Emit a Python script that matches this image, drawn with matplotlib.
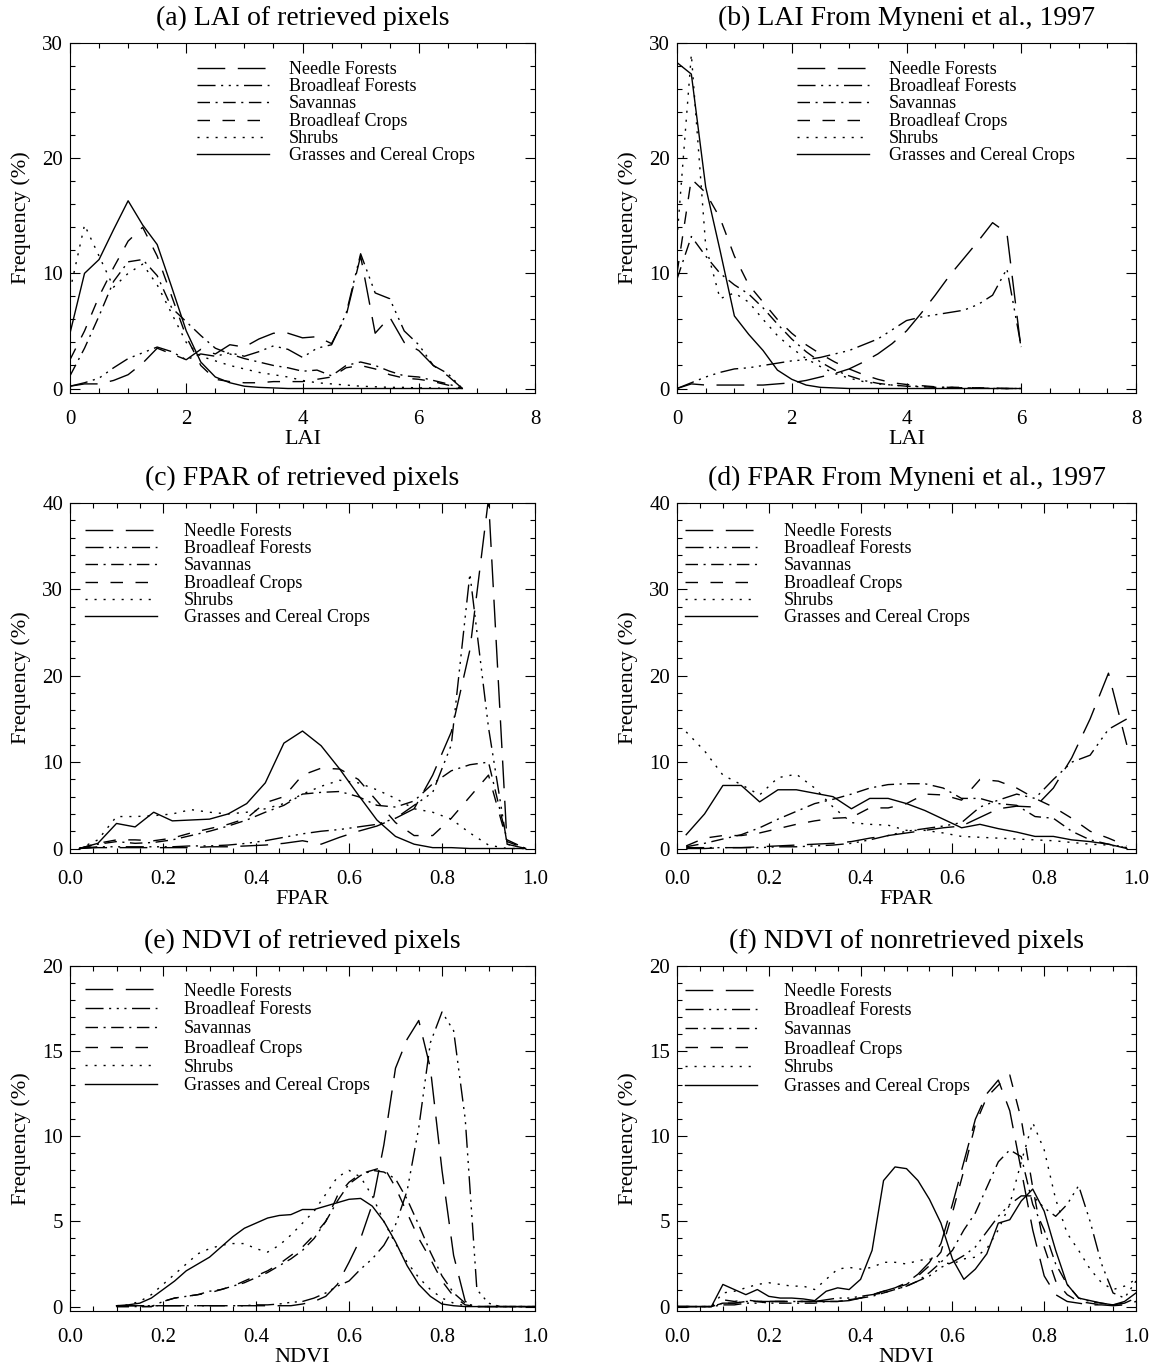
import numpy as np
import matplotlib.pyplot as plt
from matplotlib.ticker import MultipleLocator, FormatStrFormatter

plt.rcParams['font.family'] = ['Liberation Serif', 'DejaVu Serif']
plt.rcParams['lines.scale_dashes'] = False

names = ['Needle Forests', 'Broadleaf Forests', 'Savannas',
         'Broadleaf Crops', 'Shrubs', 'Grasses and Cereal Crops']

# (a) LAI of retrieved pixels
a_x = [0, 0.25, 0.5, 0.75, 1.0, 1.25, 1.5, 1.75, 2.0, 2.25, 2.5, 2.75, 3.0, 3.25,
       3.5, 3.75, 4.0, 4.25, 4.5, 4.75, 5.0, 5.25, 5.5, 5.75, 6.0, 6.25, 6.5, 6.75]
a_needle = [0.2, 0.4, 0.4, 0.7, 1.2, 2.2, 3.5, 3.0, 2.5, 3.4, 3.0, 3.8, 3.6, 4.3,
            4.8, 4.8, 4.4, 4.5, 3.9, 6.3, 11.5, 4.8, 6.2, 4.0, 3.3, 2.0, 1.1, 0.0]
a_broadfor = [0.2, 0.5, 0.9, 1.8, 2.6, 3.1, 3.6, 3.2, 2.5, 3.0, 2.8, 3.1, 2.8, 3.2,
              3.7, 3.4, 2.7, 3.5, 3.8, 6.5, 11.7, 8.3, 7.8, 5.0, 3.8, 2.0, 1.3, 0.0]
a_savanna = [1.1, 3.5, 6.3, 9.3, 11.0, 11.2, 9.8, 7.0, 5.8, 4.6, 3.5, 3.0, 2.6, 2.3,
             2.0, 1.8, 1.5, 1.6, 1.1, 2.0, 2.3, 2.0, 1.5, 1.1, 1.0, 0.7, 0.4, 0.0]
a_crops = [2.5, 5.0, 8.0, 10.5, 12.8, 14.0, 11.5, 8.0, 4.5, 2.0, 0.8, 0.6, 0.5, 0.5,
           0.6, 0.6, 0.6, 0.8, 1.0, 1.8, 2.0, 1.7, 1.2, 0.9, 0.8, 0.6, 0.3, 0.0]
a_shrubs = [8.5, 14.2, 11.5, 8.8, 10.0, 10.8, 9.0, 6.5, 4.0, 2.8, 2.4, 2.0, 1.7, 1.4,
            1.2, 1.0, 0.7, 0.5, 0.4, 0.3, 0.2, 0.15, 0.1, 0.1, 0.05, 0.05, 0.0, 0.0]
a_grass = [4.8, 10.0, 11.2, 13.8, 16.3, 14.2, 12.5, 8.8, 5.0, 2.3, 1.0, 0.5, 0.2, 0.1,
           0.05, 0, 0, 0, 0, 0, 0, 0, 0, 0, 0, 0, 0, 0]

# (b) LAI from Myneni et al., 1997
b_x = [0, 0.25, 0.5, 0.75, 1.0, 1.25, 1.5, 1.75, 2.0, 2.25, 2.5, 2.75, 3.0,
       3.25, 3.5, 3.75, 4.0, 4.25, 4.5, 4.75, 5.0, 5.25, 5.5, 5.75, 6.0]
b_needle = [0.0, 0.4, 0.3, 0.3, 0.3, 0.3, 0.3, 0.4, 0.5, 0.7, 1.0, 1.3, 1.7,
            2.3, 3.0, 3.9, 5.0, 6.5, 8.1, 9.8, 11.3, 12.8, 14.4, 13.5, 3.3]
b_broadfor = [0.0, 0.5, 1.0, 1.4, 1.7, 1.8, 2.0, 2.2, 2.4, 2.5, 2.7, 3.0, 3.3,
              3.8, 4.3, 5.1, 5.9, 6.2, 6.4, 6.6, 6.8, 7.3, 8.1, 10.4, 3.6]
b_savanna = [9.5, 13.2, 11.5, 10.0, 9.0, 8.2, 7.0, 5.6, 4.3, 3.2, 2.3, 1.6, 1.1,
             0.7, 0.45, 0.3, 0.2, 0.15, 0.1, 0.1, 0.05, 0.05, 0, 0, 0]
b_crops = [10.0, 18.2, 17.0, 14.8, 11.5, 9.0, 7.5, 6.0, 4.8, 3.8, 3.0, 2.3, 1.7,
           1.2, 0.8, 0.5, 0.35, 0.25, 0.15, 0.1, 0.1, 0.05, 0.05, 0, 0]
b_shrubs = [13.0, 29.0, 12.4, 7.8, 8.3, 7.5, 6.0, 4.6, 3.5, 2.6, 1.9, 1.3, 0.9,
            0.6, 0.4, 0.3, 0.2, 0.2, 0.1, 0.1, 0.05, 0.05, 0, 0, 0]
b_grass = [28.3, 27.3, 17.5, 12.0, 6.3, 4.7, 3.3, 1.6, 0.8, 0.3, 0.1, 0.05, 0,
           0, 0, 0, 0, 0, 0, 0, 0, 0, 0, 0, 0]

# (c) FPAR of retrieved pixels
c_x = [0.02, 0.06, 0.10, 0.14, 0.18, 0.22, 0.26, 0.30, 0.34, 0.38, 0.42, 0.46, 0.50,
       0.54, 0.58, 0.62, 0.66, 0.70, 0.74, 0.78, 0.82, 0.86, 0.90, 0.94, 0.98]
c_needle = [0.0, 0.1, 0.1, 0.1, 0.1, 0.1, 0.1, 0.2, 0.2, 0.3, 0.4, 0.6, 0.9,
            0.5, 1.3, 2.0, 2.6, 3.5, 4.6, 8.5, 13.5, 23.0, 40.5, 0.5, 0.0]
c_broadfor = [0.0, 0.2, 0.2, 0.2, 0.2, 0.2, 0.3, 0.3, 0.4, 0.6, 0.9, 1.3, 1.7,
              2.0, 2.2, 2.5, 2.8, 3.5, 5.0, 6.5, 12.0, 31.8, 14.0, 0.5, 0.0]
c_savanna = [0.0, 0.5, 0.8, 0.6, 0.7, 1.0, 1.5, 2.0, 2.6, 3.3, 4.2, 5.0, 6.3,
             6.5, 6.6, 6.0, 5.0, 4.8, 5.5, 7.5, 9.0, 9.7, 10.0, 1.0, 0.0]
c_crops = [0.0, 0.6, 1.0, 1.0, 0.9, 1.2, 1.8, 2.3, 2.8, 3.5, 5.3, 6.0, 8.5,
           9.3, 9.2, 8.0, 5.5, 3.0, 1.5, 1.5, 3.5, 6.0, 8.5, 0.8, 0.0]
c_shrubs = [0.0, 1.0, 3.7, 3.7, 3.8, 4.0, 4.5, 4.2, 4.0, 4.2, 4.6, 5.2, 6.3,
            7.2, 7.9, 7.6, 6.8, 5.8, 4.6, 4.2, 3.4, 1.8, 0.4, 0.0, 0.0]
c_grass = [0.0, 0.6, 2.9, 2.5, 4.2, 3.2, 3.3, 3.4, 4.0, 5.2, 7.6, 12.2, 13.6,
           11.9, 9.2, 6.2, 3.3, 1.4, 0.5, 0.1, 0.1, 0.0, 0.0, 0.0, 0.0]

# (d) FPAR from Myneni et al., 1997
d_x = c_x
d_needle = [0.0, 0.0, 0.1, 0.1, 0.2, 0.3, 0.4, 0.5, 0.6, 0.8, 1.2, 1.5, 1.8,
            2.1, 2.4, 2.6, 3.6, 4.6, 4.9, 4.8, 7.0, 10.5, 15.0, 20.3, 12.0]
d_broadfor = [0.1, 0.1, 0.1, 0.1, 0.1, 0.2, 0.2, 0.3, 0.4, 0.6, 1.0, 1.5, 2.0,
              2.3, 2.6, 3.0, 4.8, 5.6, 6.3, 5.8, 8.0, 10.0, 10.8, 13.8, 15.0]
d_savanna = [0.2, 0.6, 1.1, 1.6, 2.4, 3.4, 4.3, 5.2, 5.7, 6.3, 7.0, 7.4, 7.5,
             7.5, 7.0, 5.8, 5.8, 5.2, 5.0, 3.7, 3.5, 2.0, 1.0, 0.5, 0.1]
d_crops = [0.3, 1.2, 1.5, 1.5, 1.8, 2.3, 2.8, 3.2, 3.5, 3.6, 4.7, 4.7, 5.2,
           6.3, 6.2, 5.6, 8.0, 7.8, 7.0, 5.8, 4.8, 3.5, 2.0, 1.2, 0.3]
d_shrubs = [13.5, 11.3, 8.5, 7.4, 6.2, 8.2, 8.6, 7.0, 4.8, 3.0, 2.8, 2.7, 2.1,
            2.1, 1.8, 1.4, 1.3, 1.2, 1.1, 1.0, 0.9, 0.7, 0.5, 0.4, 0.1]
d_grass = [1.6, 4.0, 7.3, 7.3, 5.4, 6.8, 6.8, 6.4, 6.0, 4.6, 5.8, 5.8, 5.2,
           4.4, 3.4, 2.4, 2.8, 2.3, 1.9, 1.4, 1.4, 1.0, 0.8, 0.5, 0.0]

# (e) NDVI of retrieved pixels
e_x = [0.1, 0.125, 0.15, 0.175, 0.2, 0.225, 0.25, 0.275,
       0.3, 0.325, 0.35, 0.375, 0.4, 0.425, 0.45, 0.475, 0.5, 0.525, 0.55, 0.575,
       0.6, 0.625, 0.65, 0.675, 0.7, 0.725, 0.75, 0.775, 0.8, 0.825, 0.85, 0.875,
       0.9, 0.925, 0.95, 0.975, 1.0]
e_needle = [0.05, 0.05, 0.05, 0.05, 0.05, 0.05, 0.05, 0.05,
            0.05, 0.05, 0.05, 0.05, 0.05, 0.05, 0.05, 0.05, 0.15, 0.3, 0.6, 1.3,
            2.6, 4.0, 6.0, 9.5, 14.0, 15.7, 16.8, 14.0, 8.0, 3.0, 0.3, 0,
            0, 0, 0, 0, 0]
e_broadfor = [0.05, 0.05, 0.05, 0.05, 0.05, 0.05, 0.05, 0.05,
              0.05, 0.05, 0.05, 0.05, 0.1, 0.1, 0.15, 0.25, 0.3, 0.5, 0.8, 1.2,
              1.5, 2.2, 2.8, 3.6, 4.8, 6.8, 10.5, 15.5, 17.3, 16.2, 11.0, 1.0,
              0.2, 0, 0, 0, 0]
e_savanna = [0, 0, 0, 0, 0.3, 0.5, 0.6, 0.7,
             0.9, 1.0, 1.2, 1.4, 1.7, 2.0, 2.4, 2.8, 3.3, 4.0, 5.0, 6.2,
             7.2, 7.7, 8.0, 7.9, 7.5, 6.3, 4.8, 3.2, 1.8, 0.8, 0.2, 0,
             0, 0, 0, 0, 0]
e_crops = [0, 0, 0, 0, 0.3, 0.5, 0.6, 0.7,
           0.8, 1.0, 1.2, 1.5, 1.8, 2.1, 2.5, 3.0, 3.5, 4.2, 5.0, 6.5,
           7.3, 7.8, 8.0, 8.2, 7.0, 5.5, 4.0, 2.8, 1.5, 0.6, 0.1, 0,
           0, 0, 0, 0, 0]
e_shrubs = [0.05, 0.1, 0.3, 0.7, 1.3, 1.9, 2.5, 3.1,
            3.4, 3.6, 3.7, 3.7, 3.4, 3.2, 3.6, 4.2, 4.9, 5.6, 6.6, 7.6,
            8.0, 7.6, 6.5, 5.0, 3.7, 2.6, 1.7, 1.0, 0.5, 0.2, 0.05, 0,
            0, 0, 0, 0, 0]
e_grass = [0.05, 0.1, 0.2, 0.5, 1.0, 1.5, 2.1, 2.5,
           2.9, 3.5, 4.1, 4.6, 4.9, 5.2, 5.35, 5.4, 5.7, 5.7, 5.9, 6.1,
           6.3, 6.35, 5.9, 5.0, 3.8, 2.4, 1.3, 0.6, 0.15, 0.05, 0, 0,
           0, 0, 0, 0, 0]

# (f) NDVI of nonretrieved pixels
f_x = [0.0, 0.025, 0.05, 0.075, 0.1, 0.125, 0.15, 0.175, 0.2, 0.225, 0.25, 0.275,
       0.3, 0.325, 0.35, 0.375, 0.4, 0.425, 0.45, 0.475, 0.5, 0.525, 0.55, 0.575,
       0.6, 0.625, 0.65, 0.675, 0.7, 0.725, 0.75, 0.775, 0.8, 0.825, 0.85, 0.875,
       0.9, 0.925, 0.95, 0.975, 1.0]
f_needle = [0, 0, 0, 0, 0.2, 0.2, 0.3, 0.3, 0.3, 0.3, 0.3, 0.3,
            0.3, 0.3, 0.3, 0.35, 0.5, 0.7, 0.9, 1.1, 1.4, 1.9, 2.6, 3.7,
            6.0, 8.5, 11.0, 12.5, 13.3, 11.5, 8.0, 4.5, 1.8, 0.7, 0.3, 0.2,
            0.1, 0.1, 0.05, 0.1, 0.3]
f_broadfor = [0, 0, 0, 0, 0.1, 0.1, 0.2, 0.2, 0.3, 0.3, 0.3, 0.3,
              0.3, 0.4, 0.5, 0.5, 0.6, 0.7, 0.8, 1.0, 1.2, 1.5, 1.8, 2.3,
              2.6, 3.0, 3.5, 4.4, 5.3, 6.0, 6.5, 6.5, 5.8, 5.3, 6.0, 7.1,
              5.0, 2.5, 0.8, 0.5, 1.5]
f_savanna = [0, 0, 0, 0, 0.2, 0.2, 0.3, 0.3, 0.2, 0.2, 0.2, 0.2,
             0.2, 0.3, 0.3, 0.4, 0.5, 0.6, 0.8, 1.0, 1.2, 1.5, 2.0, 2.6,
             3.3, 4.5, 5.5, 7.0, 8.5, 9.2, 8.8, 6.0, 4.5, 2.5, 1.3, 0.5,
             0.3, 0.2, 0.1, 0.2, 0.5]
f_crops = [0, 0, 0, 0, 0.4, 0.3, 0.4, 0.3, 0.3, 0.3, 0.3, 0.3,
           0.3, 0.3, 0.3, 0.4, 0.5, 0.7, 0.9, 1.1, 1.3, 1.8, 2.4, 3.2,
           5.5, 8.0, 10.7, 12.3, 13.0, 13.6, 11.0, 7.0, 3.5, 1.5, 0.7, 0.3,
           0.2, 0.1, 0.1, 0.2, 0.3]
f_shrubs = [0, 0, 0, 0, 0.8, 0.9, 1.1, 1.3, 1.4, 1.3, 1.2, 1.2,
            1.0, 1.6, 2.2, 2.3, 2.2, 2.3, 2.6, 2.6, 2.5, 2.7, 2.8, 2.6,
            2.5, 2.8, 2.9, 3.4, 4.5, 6.0, 8.5, 10.8, 9.2, 6.3, 4.3, 3.3,
            2.2, 1.4, 1.0, 1.2, 1.6]
f_grass = [0, 0, 0, 0, 1.3, 1.0, 0.7, 1.0, 0.6, 0.5, 0.5, 0.45,
           0.35, 0.9, 1.1, 1.0, 1.6, 3.3, 7.4, 8.2, 8.1, 7.4, 6.3, 4.9,
           2.8, 1.6, 2.2, 3.1, 4.9, 5.1, 6.2, 6.9, 5.6, 3.3, 1.3, 0.5,
           0.35, 0.2, 0.1, 0.3, 0.8]

styles = [(0, (20, 9)),
          (0, (13, 4, 1.5, 4, 1.5, 4, 1.5, 4)),
          (0, (9, 4, 1.5, 4)),
          (0, (9, 9)),
          (0, (1.5, 5)),
          '-']

fig = plt.figure(figsize=(11.5, 13.65), dpi=100)
W, H = 1150.0, 1365.0


def panel(rect, x, series, title, xlabel, xmax, ymax, xmaj, xmin, ymaj, ymin, fmt,
          leg, lspace, tpad):
    l, t, w, h = rect
    ax = fig.add_axes([l / W, 1 - (t + h) / H, w / W, h / H])
    for y, name, ls in zip(series, names, styles):
        ax.plot(x, y, color='black', lw=1.0, linestyle=ls, label=name)
    ax.set_xlim(0, xmax)
    ax.set_ylim(-ymax * 0.013, ymax)
    ax.xaxis.set_major_locator(MultipleLocator(xmaj))
    ax.xaxis.set_minor_locator(MultipleLocator(xmin))
    ax.yaxis.set_major_locator(MultipleLocator(ymaj))
    ax.yaxis.set_minor_locator(MultipleLocator(ymin))
    ax.xaxis.set_major_formatter(FormatStrFormatter(fmt))
    ax.tick_params(which='both', direction='in', top=True, right=True,
                   labelsize=15, width=0.8)
    ax.tick_params(which='major', length=7)
    ax.tick_params(which='minor', length=3.5)
    ax.tick_params(axis='x', pad=12)
    ax.tick_params(axis='y', pad=5)
    ax.set_title(title, fontsize=20, pad=13)
    ax.set_xlabel(xlabel, fontsize=16, labelpad=1)
    ax.set_ylabel('Frequency (%)', fontsize=16, labelpad=8)
    ax.legend(loc='upper left', bbox_to_anchor=leg, frameon=False, fontsize=13,
              handlelength=4.0, handletextpad=tpad, labelspacing=lspace,
              borderpad=0, borderaxespad=0)
    return ax


panel((70, 43, 465, 350), a_x,
      [a_needle, a_broadfor, a_savanna, a_crops, a_shrubs, a_grass],
      '(a) LAI of retrieved pixels', 'LAI', 8, 30, 2, 0.5, 10, 2, '%d',
      (0.273, 0.948), 0.0, 1.1)
panel((677, 43, 459, 350), b_x,
      [b_needle, b_broadfor, b_savanna, b_crops, b_shrubs, b_grass],
      '(b) LAI From Myneni et al., 1997', 'LAI', 8, 30, 2, 0.5, 10, 2, '%d',
      (0.261, 0.948), 0.0, 1.1)
panel((70, 503, 465, 350), c_x,
      [c_needle, c_broadfor, c_savanna, c_crops, c_shrubs, c_grass],
      '(c) FPAR of retrieved pixels', 'FPAR', 1, 40, 0.2, 0.05, 10, 2, '%.1f',
      (0.032, 0.942), 0.0, 1.5)
panel((677, 503, 459, 350), d_x,
      [d_needle, d_broadfor, d_savanna, d_crops, d_shrubs, d_grass],
      '(d) FPAR From Myneni et al., 1997', 'FPAR', 1, 40, 0.2, 0.05, 10, 2, '%.1f',
      (0.017, 0.942), 0.0, 1.5)
panel((70, 966, 465, 345), e_x,
      [e_needle, e_broadfor, e_savanna, e_crops, e_shrubs, e_grass],
      '(e) NDVI of retrieved pixels', 'NDVI', 1, 20, 0.2, 0.05, 5, 1, '%.1f',
      (0.032, 0.952), 0.1, 1.5)
panel((677, 966, 459, 345), f_x,
      [f_needle, f_broadfor, f_savanna, f_crops, f_shrubs, f_grass],
      '(f) NDVI of nonretrieved pixels', 'NDVI', 1, 20, 0.2, 0.05, 5, 1, '%.1f',
      (0.017, 0.95), 0.1, 1.5)

plt.savefig('out.png', dpi=100)
